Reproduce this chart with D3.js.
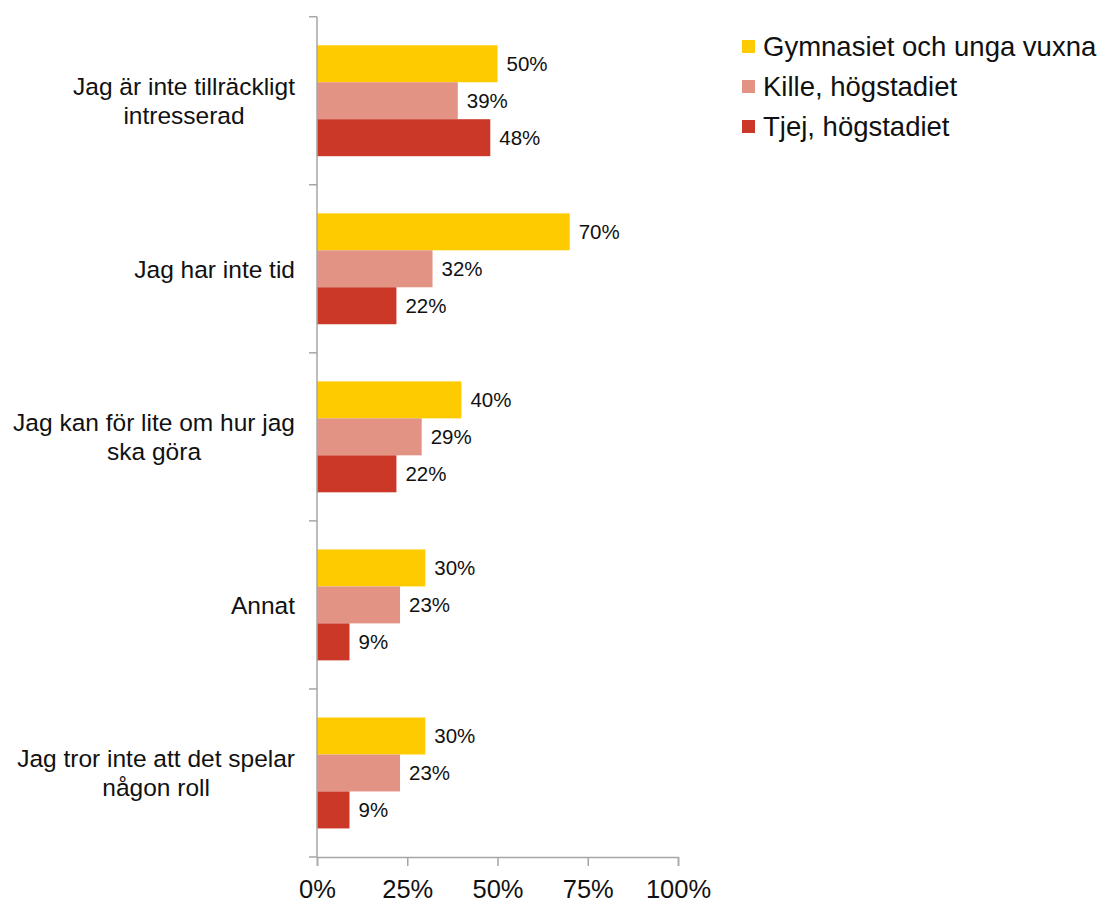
<!DOCTYPE html>
<html>
<head>
<meta charset="utf-8">
<script src="https://cdn.jsdelivr.net/npm/d3@7"></script>
<style>
  body { margin: 0; background: #fff; }
  svg { display: block; font-family: "Liberation Sans", Arial, sans-serif; }
</style>
</head>
<body>
<div id="chart"></div>
<script>
// data
const categories = [
    ["Jag är inte tillräckligt", "intresserad"],
    ["Jag har inte tid"],
    ["Jag kan för lite om hur jag", "ska göra"],
    ["Annat"],
    ["Jag tror inte att det spelar", "någon roll"]
];
const seriesNames = ["Gymnasiet och unga vuxna", "Kille, högstadiet", "Tjej, högstadiet"];
const gymnasiet = [50, 70, 40, 30, 30];
const kille = [39, 32, 29, 23, 23];
const tjej = [48, 22, 22, 9, 9];
const xTicks = [0, 25, 50, 75, 100];
const colors = ["#fecb00", "#e29384", "#cb3828"];

const seriesValues = [gymnasiet, kille, tjej];
const width = 1100, height = 902;
const margin = { left: 317, right: 422, top: 16.7, bottom: 45 };

const svg = d3.select("#chart").append("svg")
    .attr("width", width)
    .attr("height", height);

const x = d3.scaleLinear()
    .domain([0, 100])
    .range([margin.left, width - margin.right]);

const y = d3.scaleBand()
    .domain(d3.range(categories.length))
    .range([margin.top, height - margin.bottom])
    .paddingInner(0.34)
    .paddingOuter(0.17);

const ySub = d3.scaleBand()
    .domain(d3.range(seriesNames.length))
    .range([0, y.bandwidth()]);

const step = y.step();
const axisColor = "#a6a6a6";

// bars
const groups = svg.selectAll(".cat")
    .data(categories)
    .enter().append("g")
    .attr("class", "cat")
    .attr("transform", (d, i) => `translate(0,${y(i)})`);

groups.each(function (d, ci) {
    const g = d3.select(this);
    seriesValues.forEach((vals, si) => {
        g.append("rect")
            .attr("x", x(0))
            .attr("y", ySub(si))
            .attr("width", x(vals[ci]) - x(0))
            .attr("height", ySub.bandwidth())
            .attr("fill", colors[si]);
        g.append("text")
            .attr("x", x(vals[ci]) + 9)
            .attr("y", ySub(si) + ySub.bandwidth() / 2)
            .attr("dy", "0.36em")
            .attr("font-size", "20.5px")
            .attr("fill", "#111")
            .text(vals[ci] + "%");
    });
});

// y axis line and boundary ticks
const y0 = margin.top, yEnd = margin.top + step * categories.length;
svg.append("line")
    .attr("x1", x(0)).attr("x2", x(0))
    .attr("y1", y0).attr("y2", yEnd)
    .attr("stroke", axisColor).attr("stroke-width", 1.5);
svg.selectAll(".ytick")
    .data(d3.range(categories.length + 1))
    .enter().append("line")
    .attr("x1", x(0) - 8).attr("x2", x(0))
    .attr("y1", i => y0 + i * step).attr("y2", i => y0 + i * step)
    .attr("stroke", axisColor).attr("stroke-width", 1.5);

// x axis
const xAxis = svg.append("g")
    .attr("transform", `translate(0,${yEnd})`)
    .call(d3.axisBottom(x).tickValues(xTicks).tickSize(9).tickPadding(14).tickFormat(d => d + "%"));
xAxis.select(".domain").attr("stroke", axisColor).attr("stroke-width", 1.5);
xAxis.selectAll(".tick line").attr("stroke", axisColor).attr("stroke-width", 1.5);
xAxis.selectAll(".tick text")
    .attr("font-size", "25.5px")
    .attr("font-family", "'Liberation Sans', Arial, sans-serif")
    .attr("fill", "#111");

// category labels (lines centered, block right-aligned)
const labelRight = 295;
const lineH = 29;
categories.forEach((lines, i) => {
    const t = svg.append("text")
        .attr("font-size", "24.5px")
        .attr("fill", "#111")
        .attr("text-anchor", "middle");
    const cy = y0 + (i + 0.5) * step;
    lines.forEach((ln, li) => {
        t.append("tspan")
            .attr("y", cy + (li - (lines.length - 1) / 2) * lineH)
            .attr("dy", "0.36em")
            .text(ln);
    });
    const maxW = d3.max(t.selectAll("tspan").nodes(), n => n.getComputedTextLength());
    t.selectAll("tspan").attr("x", labelRight - maxW / 2);
});

// legend
const legend = svg.append("g").attr("transform", "translate(742,46.5)");
seriesNames.forEach((name, i) => {
    const row = legend.append("g").attr("transform", `translate(0,${i * 40})`);
    row.append("rect")
        .attr("x", 0).attr("y", -6.5)
        .attr("width", 13).attr("height", 13)
        .attr("fill", colors[i]);
    row.append("text")
        .attr("x", 21).attr("y", 0)
        .attr("dy", "0.36em")
        .attr("font-size", "27.5px")
        .attr("fill", "#111")
        .text(name);
});
</script>
</body>
</html>
